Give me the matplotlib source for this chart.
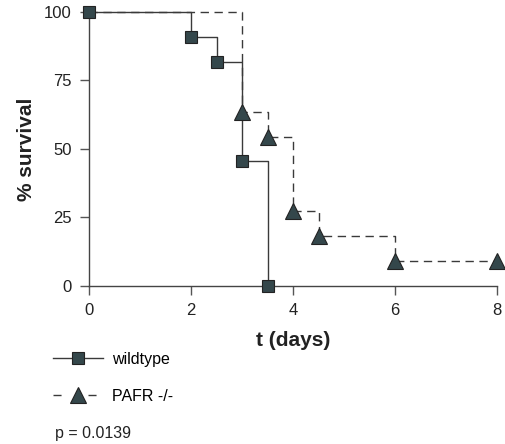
import matplotlib
matplotlib.use("Agg")
import matplotlib.pyplot as plt
from matplotlib.lines import Line2D

plt.rcParams['font.family'] = ['Liberation Sans', 'DejaVu Sans']

# Data (Kaplan-Meier steps)
wt_days = [0, 2, 2.5, 3, 3.5]
wt_surv = [100, 90.9, 81.8, 45.5, 0]
ko_days = [0, 3, 3.5, 4, 4.5, 6, 8]
ko_surv = [100, 63.6, 54.5, 27.3, 18.2, 9.1, 9.1]
x_ticks = [0, 2, 4, 6, 8]
y_ticks = [0, 25, 50, 75, 100]
labels = ["wildtype", "PAFR -/-"]
p_text = "p = 0.0139"

line_col = "#3a3a3a"
mark_col = "#34474b"

fig = plt.figure(figsize=(5.05, 4.44), dpi=100)
ax = fig.add_axes([89.3/505, 1-286/444, (497-89.3)/505, (286-11.7)/444])

# step lines
ax.step(ko_days, ko_surv, where='post', color=line_col, lw=1.0,
        linestyle=(0, (6, 4)), clip_on=False, zorder=2)
ax.step(wt_days, wt_surv, where='post', color=line_col, lw=1.0,
        clip_on=False, zorder=3)
# markers (knockout start point is hidden under the wildtype square)
ax.plot(ko_days[1:], ko_surv[1:], linestyle='none', marker='^', ms=11,
        mfc=mark_col, mec='#222222', mew=0.8, clip_on=False, zorder=4)
ax.plot(wt_days, wt_surv, linestyle='none', marker='s', ms=9,
        mfc=mark_col, mec='#222222', mew=0.8, clip_on=False, zorder=5)

ax.set_xlim(0, 8)
ax.set_ylim(0, 100)
ax.set_xticks(x_ticks)
ax.set_yticks(y_ticks)
ax.spines['top'].set_visible(False)
ax.spines['right'].set_visible(False)
for s in ('left', 'bottom'):
    ax.spines[s].set_color('#444444')
    ax.spines[s].set_linewidth(1.0)
ax.tick_params(direction='out', length=6.5, width=1, color='#555555',
               labelsize=12, labelcolor='#222222', pad=6)

ax.set_xlabel("t (days)", fontsize=15, fontweight='bold', color='#222222', labelpad=9)
ax.set_ylabel("% survival", fontsize=15, fontweight='bold', color='#222222', labelpad=6)

# legend
h1 = Line2D([], [], color=line_col, lw=1.0, marker='s', ms=9,
            mfc=mark_col, mec='#222222', mew=0.8)
h2 = Line2D([], [], color=line_col, lw=1.0, linestyle=(0, (5.8, 19.4)), marker='^', ms=11,
            mfc=mark_col, mec='#222222', mew=0.8)
fig.legend([h1, h2], labels, loc='upper left', bbox_to_anchor=(53/505, 1-352/444),
           frameon=False, fontsize=11.5, handlelength=3.1, handletextpad=0.6,
           labelspacing=1.35, borderaxespad=0, borderpad=0)
fig.text(55/505, 1-433/444, p_text, fontsize=11.5, color='#222222', va='center', ha='left')

fig.savefig("out.png", dpi=100)
